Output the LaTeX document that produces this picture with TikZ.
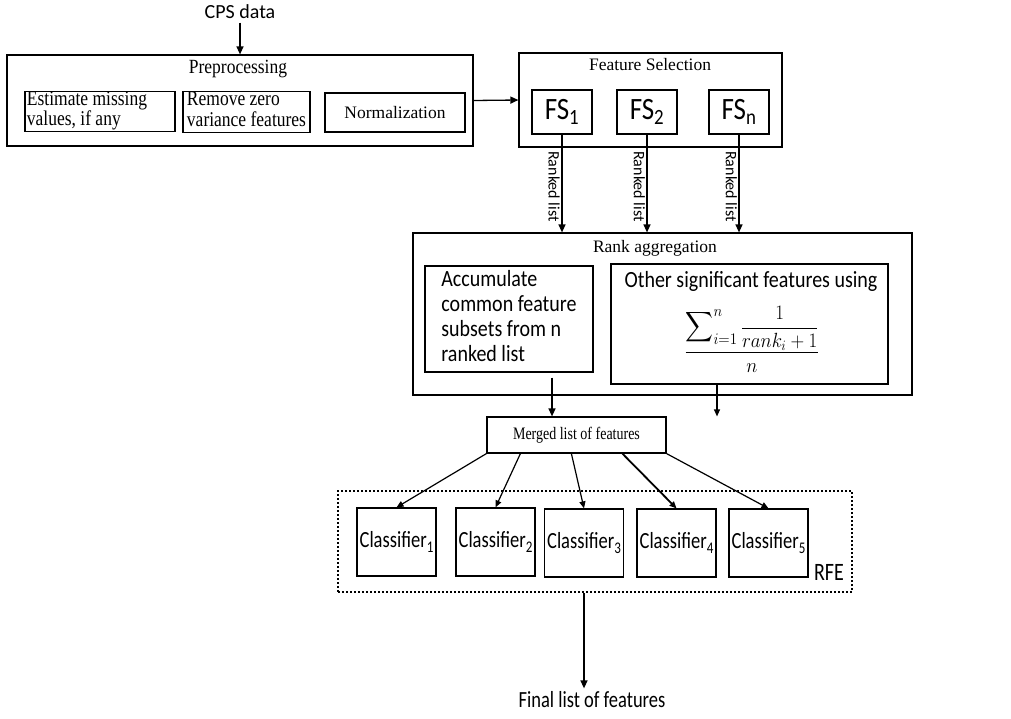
\RequirePackage{fix-cm}
\documentclass[tikz,border=0pt]{standalone}
\usepackage{amsmath}
\usepackage{graphicx}
\usepackage{fontspec}
\setmainfont{Liberation Serif}
\newfontfamily\calfont{Carlito}
\usetikzlibrary{arrows.meta,calc}
\newcommand\tall[2]{\scalebox{1}[#1]{#2}}
\newcommand\csub[1]{\raisebox{-4.5pt}{\fontsize{13}{13}\selectfont #1}}
\newcommand\twolines[2]{\tall{1.2}{\begin{tabular}{@{}l@{}}#1\\#2\end{tabular}}}
\tikzset{
 box/.style={draw, line width=1.2pt, inner sep=0pt},
 arr/.style={-{Triangle[length=8pt,width=7pt]}, line width=1.3pt},
 sarr/.style={-{Triangle[length=7pt,width=6pt]}, line width=1.2pt},
 tnr/.style={font=\fontsize{17.5}{21}\selectfont},
 tnrs/.style={font=\fontsize{17.5}{16.5}\selectfont},
 cal/.style={font=\calfont\fontsize{20}{21.5}\selectfont},
 calm/.style={font=\calfont\fontsize{18.5}{22}\selectfont},
 fsbox/.style={box, font=\calfont\fontsize{27}{30}\selectfont, minimum width=60pt, minimum height=44pt},
 clbox/.style={box, calm, minimum width=79pt, minimum height=68pt},
 rlab/.style={rotate=-90, anchor=north, inner sep=1.5pt, pos=0.53, font=\calfont\fontsize{16}{19}\selectfont},
 rfebox/.style={draw, line width=2pt, dash pattern=on 2pt off 2pt, inner sep=0pt},
}
\begin{document}
\begin{tikzpicture}[x=1pt,y=-1pt]
\useasboundingbox (0,0) rectangle (1011,718);
% CPS data and preprocessing
\node[cal] (cps) at (240,12) {CPS data};
\node[box, minimum width=466pt, minimum height=91pt] (pre) at (240,100.5) {};
\node[tnr] (pretitle) at (238,69) {\tall{1.15}{Preprocessing}};
\node[box, tnrs, minimum width=150pt, minimum height=39pt] (est) at (100,111.5) {\hspace*{-1pt}\twolines{Estimate missing}{values, if any}\hspace*{25pt}};
\node[box, tnrs, minimum width=127pt, minimum height=40pt] (rem) at (246.5,112) {\twolines{Remove zero}{variance features}};
\node[box, tnr, minimum width=140pt, minimum height=39pt] (norm) at (395,112.5) {Normalization};
\draw[arr] (cps.south) -- (cps.south |- pre.north);
% Feature selection
\node[box, minimum width=263pt, minimum height=94pt] (fs) at (650.5,100) {};
\node[tnr] (fstitle) at (650,65) {Feature Selection};
\node[fsbox] (fs1) at (562,112) {\tall{1.15}{FS\textsubscript{1}}};
\node[fsbox] (fs2) at (647,112) {\tall{1.15}{FS\textsubscript{2}}};
\node[fsbox] (fsn) at (739,112) {\tall{1.15}{FS\textsubscript{n}}};
\draw[arr] (pre.east) -- (fs.west);
% Rank aggregation
\node[box, minimum width=499pt, minimum height=162pt] (rank) at (662.5,314) {};
\node[tnr] (ranktitle) at (655,248) {Rank aggregation};
\node[box, cal, minimum width=168pt, minimum height=106pt] (acc) at (509,319) {\tall{1.16}{\begin{tabular}{@{}l@{}}Accumulate\\common feature\\subsets from n\\ranked list\end{tabular}}};
\node[box, minimum width=277pt, minimum height=120pt] (oth) at (749.5,324) {};
\node[cal, inner sep=0pt] (othtext) at (751,281) {\tall{1.16}{Other significant features using}};
\node[inner sep=0pt] (formula) at (752,339) {\fontsize{19}{23}\selectfont \tall{1.08}{$\displaystyle\frac{\scalebox{1.12}{$\displaystyle\sum\nolimits_{i=1}^{n}$}\,\displaystyle\frac{1}{rank_i+1}}{n}$}};
\draw[arr] (fs1.south) -- node[rlab] {Ranked list} (fs1.south |- rank.north);
\draw[arr] (fs2.south) -- node[rlab] {Ranked list} (fs2.south |- rank.north);
\draw[arr] (fsn.south) -- node[rlab] {Ranked list} (fsn.south |- rank.north);
% Merged list
\node[box, font=\fontsize{14}{17}\selectfont, minimum width=179pt, minimum height=36pt] (merged) at (576.5,435) {\tall{1.25}{Merged list of features}};
\coordinate (a1) at ($(acc.south)+(43,5)$);
\coordinate (o1) at ($(oth.south)+(-32.5,0)$);
\draw[arr] (a1) -- (a1 |- merged.north);
\draw[sarr] (o1) -- (o1 |- merged.north);
% Classifiers
\node[rfebox, minimum width=514pt, minimum height=101pt] (rfe) at (595,541.5) {};
\node[cal] (rfelabel) at (829,572) {\tall{1.25}{RFE}};
\node[clbox] (c1) at (396.5,542) {\tall{1.25}{Classifier\csub{1}}};
\node[clbox] (c2) at (495.5,542) {\tall{1.25}{Classifier\csub{2}}};
\node[clbox] (c3) at (584,543) {\tall{1.25}{Classifier\csub{3}}};
\node[clbox] (c4) at (676.5,543) {\tall{1.25}{Classifier\csub{4}}};
\node[clbox] (c5) at (768.5,543) {\tall{1.25}{Classifier\csub{5}}};
\draw[sarr] (merged.south west) -- (c1.north);
\draw[sarr] ($(merged.south west)+(34,0)$) -- (c2.north);
\draw[sarr] ($(merged.south west)+(85,0)$) -- (c3.north);
\draw[sarr, line width=1.8pt] ($(merged.south west)+(136,0)$) -- (c4.north);
\draw[sarr] (merged.south east) -- (c5.north);
% Final
\node[calm] (final) at (592,700) {\tall{1.25}{Final list of features}};
\draw[arr] (c3.south |- rfe.south) -- (c3.south |- final.north);
\end{tikzpicture}
\end{document}
